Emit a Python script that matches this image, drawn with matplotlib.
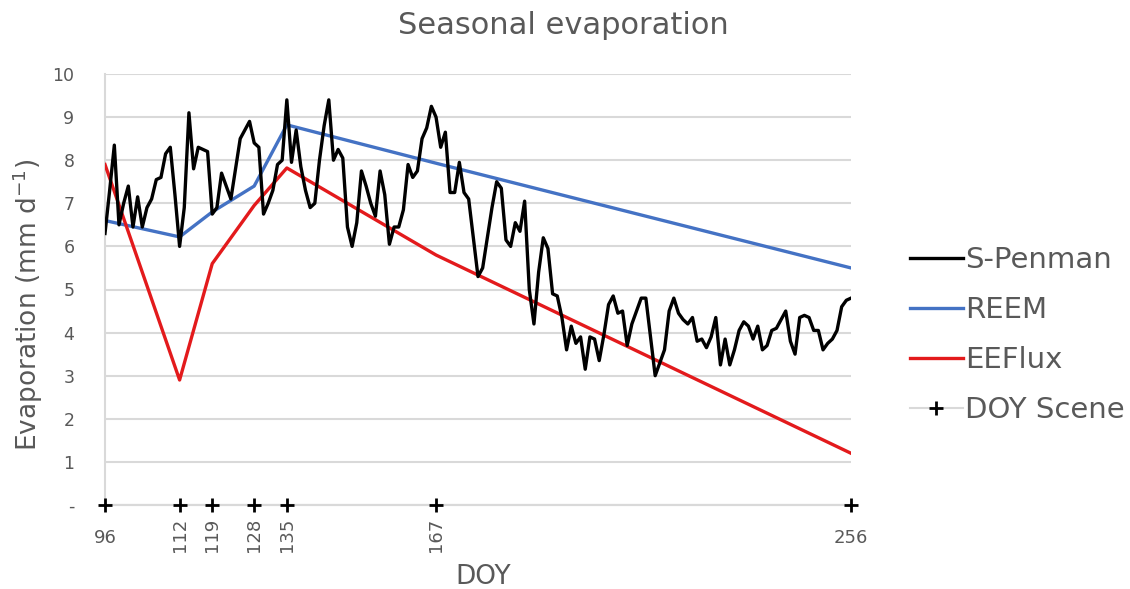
import matplotlib.pyplot as plt
import numpy as np

# daily S-Penman evaporation, DOY 96..256
penman = [
    6.3, 7.3, 8.35, 6.5, 7.0, 7.4, 6.45, 7.15, 6.45, 6.9,      # 96-105
    7.1, 7.55, 7.6, 8.15, 8.3, 7.2, 6.0, 6.9, 9.1, 7.8,        # 106-115
    8.3, 8.25, 8.2, 6.75, 6.9, 7.7, 7.4, 7.1, 7.8, 8.5,        # 116-125
    8.7, 8.9, 8.4, 8.3, 6.75, 7.0, 7.3, 7.9, 8.0, 9.4,         # 126-135
    7.95, 8.7, 7.85, 7.3, 6.9, 7.0, 8.0, 8.8, 9.4, 8.0,        # 136-145
    8.25, 8.05, 6.45, 6.0, 6.55, 7.75, 7.4, 7.0, 6.7, 7.75,    # 146-155
    7.2, 6.05, 6.45, 6.45, 6.85, 7.9, 7.6, 7.75, 8.5, 8.75,    # 156-165
    9.25, 9.0, 8.3, 8.65, 7.25, 7.25, 7.95, 7.25, 7.1, 6.2,    # 166-175
    5.3, 5.5, 6.2, 6.9, 7.5, 7.35, 6.15, 6.0, 6.55, 6.35,      # 176-185
    7.05, 5.0, 4.2, 5.4, 6.2, 5.95, 4.9, 4.85, 4.35, 3.6,      # 186-195
    4.15, 3.75, 3.9, 3.15, 3.9, 3.85, 3.35, 3.95, 4.65, 4.85,  # 196-205
    4.45, 4.5, 3.7, 4.2, 4.5, 4.8, 4.8, 3.9, 3.0, 3.3,         # 206-215
    3.6, 4.5, 4.8, 4.45, 4.3, 4.2, 4.35, 3.8, 3.85, 3.65,      # 216-225
    3.9, 4.35, 3.25, 3.85, 3.25, 3.6, 4.05, 4.25, 4.15, 3.85,  # 226-235
    4.15, 3.6, 3.7, 4.05, 4.1, 4.3, 4.5, 3.8, 3.5, 4.35,       # 236-245
    4.4, 4.35, 4.05, 4.05, 3.6, 3.75, 3.85, 4.05, 4.6, 4.75,   # 246-255
    4.8,                                                       # 256
]
doy = np.arange(96, 96 + len(penman))

scene_doy = [96, 112, 119, 128, 135, 167, 256]
reem = [6.6, 6.22, 6.8, 7.4, 8.82, 7.93, 5.5]
eeflux = [7.9, 2.9, 5.6, 6.95, 7.82, 5.8, 1.2]
scene_y = [0] * len(scene_doy)

grey = '#595959'
grid = '#d9d9d9'

fig = plt.figure(figsize=(11.3, 5.89), dpi=100)
ax = fig.add_axes([105 / 1130, 1 - 505 / 589, 746 / 1130, 431 / 589])

l1, = ax.plot(doy, penman, color='black', lw=2.4, label='S-Penman', zorder=4)
l2, = ax.plot(scene_doy, reem, color='#4472C4', lw=2.4, label='REEM', zorder=3)
l3, = ax.plot(scene_doy, eeflux, color='#E31A1C', lw=2.4, label='EEFlux', zorder=3)
l4, = ax.plot(scene_doy, scene_y, color=grid, lw=1.5, marker='+', mec='black',
              ms=10, mew=2, label='DOY Scene', clip_on=False, zorder=5)

ax.set_xlim(96, 256)
ax.set_ylim(0, 10)
ax.set_yticks(range(0, 11))
ax.set_yticklabels(['-'] + [str(i) for i in range(1, 11)])
ax.grid(axis='y', color=grid, lw=1.5)
ax.set_axisbelow(True)
for s in ['top', 'right']:
    ax.spines[s].set_visible(False)
for s in ['left', 'bottom']:
    ax.spines[s].set_color(grid)
    ax.spines[s].set_linewidth(1.5)
ax.tick_params(axis='y', length=0, labelsize=12.5, labelcolor=grey, pad=22)

ax.set_xticks(scene_doy)
ax.set_xticklabels([])
ax.tick_params(axis='x', length=0)
for d in scene_doy:
    if d in (96, 256):
        ax.text(d, -0.55, str(d), ha='center', va='top', fontsize=13,
                color=grey)
    else:
        ax.text(d, -0.3, str(d), ha='center', va='top', fontsize=13,
                color=grey, rotation=90)

fig.text(483 / 1130, 1 - 577 / 589, 'DOY', ha='center', va='center',
         fontsize=19, color=grey)
fig.text(28 / 1130, 1 - 305 / 589, 'Evaporation (mm d$^{-1}$)', ha='center',
         va='center', rotation=90, fontsize=19, color=grey)
fig.text(563 / 1130, 1 - 25 / 589, 'Seasonal evaporation', ha='center',
         va='center', fontsize=22, color=grey)

leg = fig.legend(handles=[l1, l2, l3, l4], loc='center left',
                 bbox_to_anchor=(910 / 1130, 1 - 335 / 589), frameon=False,
                 fontsize=21, handlelength=1.8, handletextpad=0.1,
                 labelspacing=0.76, borderpad=0, borderaxespad=0)
for t in leg.get_texts():
    t.set_color(grey)

fig.savefig('out.png', dpi=100)
